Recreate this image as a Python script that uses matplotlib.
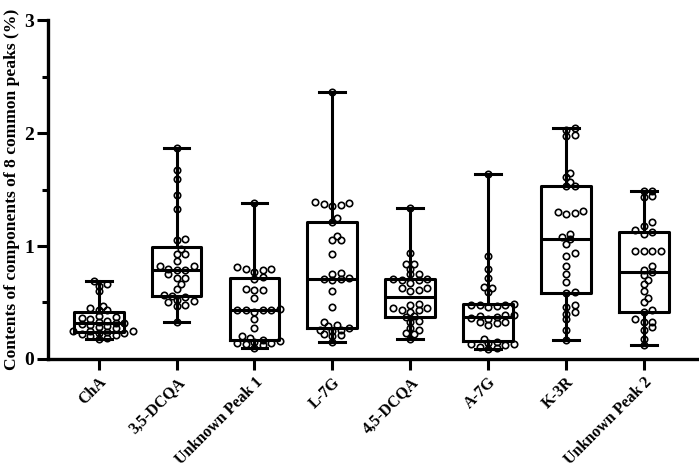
import numpy as np
import matplotlib
matplotlib.use('Agg')
import matplotlib.pyplot as plt
from matplotlib.ticker import MultipleLocator

categories = ['ChA', '3,5-DCQA', 'Unknown Peak 1', 'L-7G', '4,5-DCQA',
              'A-7G', 'K-3R', 'Unknown Peak 2']

cha = [0.69, 0.66, 0.65, 0.60, 0.47, 0.45, 0.43, 0.43, 0.38, 0.37, 0.36, 0.35,
       0.34, 0.33, 0.32, 0.32, 0.31, 0.30, 0.29, 0.28, 0.27, 0.25, 0.25, 0.25,
       0.24, 0.23, 0.23, 0.22, 0.21, 0.20, 0.19, 0.18]
dcqa35 = [1.87, 1.67, 1.59, 1.45, 1.33, 1.06, 1.05, 0.97, 0.93, 0.93, 0.87,
          0.82, 0.82, 0.80, 0.79, 0.79, 0.75, 0.72, 0.72, 0.66, 0.62, 0.57,
          0.56, 0.55, 0.52, 0.51, 0.50, 0.48, 0.47, 0.33]
up1 = [1.38, 0.81, 0.80, 0.80, 0.79, 0.77, 0.73, 0.71, 0.62, 0.61, 0.61, 0.54,
       0.44, 0.43, 0.43, 0.43, 0.43, 0.42, 0.35, 0.27, 0.20, 0.19, 0.17, 0.16,
       0.15, 0.14, 0.14, 0.13, 0.12, 0.10]
l7g = [2.36, 1.39, 1.38, 1.37, 1.36, 1.35, 1.25, 1.21, 1.09, 1.05, 1.05, 0.93,
       0.76, 0.75, 0.72, 0.71, 0.71, 0.70, 0.60, 0.46, 0.33, 0.30, 0.29, 0.27,
       0.26, 0.26, 0.25, 0.22, 0.21, 0.20, 0.15]
dcqa45 = [1.34, 0.94, 0.84, 0.84, 0.80, 0.75, 0.75, 0.71, 0.71, 0.70, 0.70,
          0.67, 0.63, 0.63, 0.61, 0.60, 0.49, 0.48, 0.45, 0.45, 0.43, 0.43,
          0.42, 0.38, 0.37, 0.34, 0.33, 0.27, 0.26, 0.23, 0.22, 0.18]
a7g = [1.64, 0.91, 0.80, 0.72, 0.64, 0.63, 0.59, 0.49, 0.48, 0.48, 0.48, 0.47,
       0.46, 0.39, 0.39, 0.38, 0.37, 0.36, 0.35, 0.33, 0.33, 0.32, 0.30, 0.18,
       0.15, 0.14, 0.13, 0.13, 0.12, 0.11, 0.10, 0.09]
k3r = [2.04, 2.03, 1.98, 1.97, 1.65, 1.61, 1.57, 1.53, 1.53, 1.31, 1.30, 1.29,
       1.28, 1.11, 1.08, 1.06, 1.02, 0.94, 0.91, 0.82, 0.75, 0.68, 0.59, 0.58,
       0.48, 0.46, 0.42, 0.40, 0.35, 0.26, 0.17]
up2 = [1.49, 1.49, 1.44, 1.43, 1.21, 1.18, 1.14, 1.12, 1.11, 0.96, 0.96, 0.96,
       0.96, 0.82, 0.79, 0.77, 0.74, 0.70, 0.66, 0.60, 0.54, 0.50, 0.43, 0.42,
       0.35, 0.33, 0.33, 0.28, 0.26, 0.18, 0.12]

groups = [cha, dcqa35, up1, l7g, dcqa45, a7g, k3r, up2]

plt.rcParams['font.family'] = ['Liberation Serif', 'DejaVu Serif']
plt.rcParams['font.weight'] = 'bold'

fig = plt.figure(figsize=(6.99, 4.71), dpi=100)
ax = fig.add_axes([0.0687, 0.2378, 0.9283, 0.7197])

xlim = (-0.65, 7.68)
ylim = (0, 3)
ax_w_px = 0.9283 * 699
ax_h_px = 0.7197 * 471
sx = ax_w_px / (xlim[1] - xlim[0])
sy = ax_h_px / (ylim[1] - ylim[0])


def swarm(vals, dx=8.5, dy=5.0):
    vals = np.asarray(vals, dtype=float)
    placed = []
    out = np.zeros(len(vals))
    cands = [0.0]
    for j in range(1, 30):
        cands += [j * 0.5, -j * 0.5]
    for idx in np.argsort(vals):
        y = vals[idx] * sy
        for c in cands:
            x = c * dx
            if all(((x - px) / dx) ** 2 + ((y - py) / dy) ** 2 >= 0.97
                   for px, py in placed):
                break
        placed.append((x, y))
        out[idx] = x / sx
    return out


stats = []
for name, vals in zip(categories, groups):
    v = np.asarray(vals)
    q1, med, q3 = np.percentile(v, [25, 50, 75], method='weibull')
    stats.append(dict(med=med, q1=q1, q3=q3, whislo=v.min(), whishi=v.max(),
                      fliers=[], label=name))

lw = 2.2
ax.bxp(stats, positions=range(len(groups)), widths=0.64, capwidths=0.33,
       showfliers=False,
       boxprops=dict(color='black', linewidth=lw),
       whiskerprops=dict(color='black', linewidth=lw),
       capprops=dict(color='black', linewidth=lw),
       medianprops=dict(color='black', linewidth=lw))

for i, vals in enumerate(groups):
    offs = swarm(vals)
    ax.plot(i + offs, vals, linestyle='none', marker='o', markersize=4.6,
            markerfacecolor='none', markeredgecolor='black',
            markeredgewidth=1.2, zorder=3)

ax.set_xlim(*xlim)
ax.set_ylim(*ylim)
for s in ['top', 'right']:
    ax.spines[s].set_visible(False)
for s in ['left', 'bottom']:
    ax.spines[s].set_linewidth(2.4)

ax.yaxis.set_major_locator(MultipleLocator(1))
ax.yaxis.set_minor_locator(MultipleLocator(0.5))
ax.tick_params(axis='y', which='major', length=8, width=2.2, labelsize=14, pad=2)
ax.tick_params(axis='y', which='minor', length=4.5, width=2.2)
ax.tick_params(axis='x', which='major', length=8, width=2.2, labelsize=11.5, pad=3)
ax.set_xticks(range(len(categories)))
ax.set_xticklabels(categories, rotation=45, ha='right', rotation_mode='anchor')
for lab in ax.get_yticklabels() + ax.get_xticklabels():
    lab.set_fontweight('bold')

ax.set_ylabel('Contents of components of 8 common peaks (%)', fontsize=12.6,
              fontweight='bold', labelpad=3)

fig.savefig('out.png', dpi=100)
